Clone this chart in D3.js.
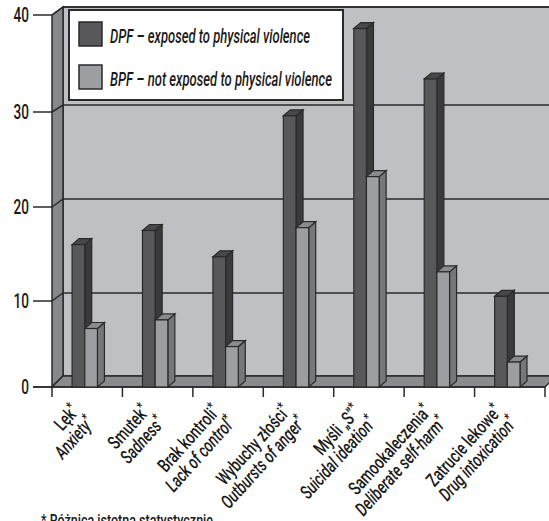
<!DOCTYPE html>
<html>
<head>
<meta charset="utf-8">
<script src="https://cdn.jsdelivr.net/npm/d3@7"></script>
<style>
  html, body { margin: 0; padding: 0; background: #fff; }
  svg { display: block; }
  text { font-family: "Roboto", "DejaVu Sans", sans-serif; font-weight: 500; fill: #1a1a1a; }
</style>
</head>
<body>
<svg id="chart" width="549" height="521"></svg>
<script>
// Categories: Polish name and English translation
const categoriesPl = ["Lęk", "Smutek", "Brak kontroli", "Wybuchy złości", "Myśli „S”", "Samookaleczenia", "Zatrucie lekowe"];
const categoriesEn = ["Anxiety", "Sadness", "Lack of control", "Outbursts of anger", "Suicidal ideation", "Deliberate self-harm", "Drug intoxication"];

// Percentages for the two groups
const dpfValues = [16.0, 17.5, 14.7, 29.6, 38.6, 33.4, 10.5];
const bpfValues = [6.8, 7.8, 4.7, 17.8, 23.2, 13.1, 2.9];

const seriesNames = ["DPF – exposed to physical violence", "BPF – not exposed to physical violence"];
const yTicks = [0, 10, 20, 30, 40];
const footnote = "* Różnica istotna statystycznie";

const svg = d3.select("#chart");

// Front plane of the 3-D box and its receding back wall
const yFront = d3.scaleLinear().domain(yTicks).range([387, 301, 207, 112, 15]);
const yBack = d3.scaleLinear().domain(yTicks).range([376, 293, 199, 105, 7]);
const x = d3.scaleBand().domain(d3.range(categoriesPl.length)).range([52, 545]).paddingInner(0).paddingOuter(0);
const depth = 11;            // wall depth offset in x
const barDx = 7, barDy = -6; // bar depth offsets
const barW = x.bandwidth() * 0.18;
const barOffset = x.bandwidth() * 0.285;

const x0 = 52, x1 = 545, xRight = 549;
const stroke = "#2a2a2a";

// Back wall
svg.append("rect")
  .attr("x", x0 + depth).attr("y", yBack(40))
  .attr("width", xRight - x0 - depth + 5).attr("height", yBack(0) - yBack(40))
  .attr("fill", "#bfc0c4").attr("stroke", stroke).attr("stroke-width", 1.5);

// Left side wall
svg.append("polygon")
  .attr("points", [[x0, yFront(40)], [x0 + depth, yBack(40)], [x0 + depth, yBack(0)], [x0, yFront(0)]].join(" "))
  .attr("fill", "#87888c").attr("stroke", stroke).attr("stroke-width", 1.5);

// Floor
svg.append("polygon")
  .attr("points", [[x0, yFront(0)], [x1, yFront(0)], [x1 + depth, yBack(0)], [x0 + depth, yBack(0)]].join(" "))
  .attr("fill", "#8a8b8f").attr("stroke", stroke).attr("stroke-width", 1.5);

// Gridlines on side wall and back wall
yTicks.filter(t => t > 0).forEach(t => {
  svg.append("polyline")
    .attr("points", [[x0, yFront(t)], [x0 + depth, yBack(t)], [xRight + 2, yBack(t)]].join(" "))
    .attr("fill", "none").attr("stroke", stroke).attr("stroke-width", 1.5);
});

// Y axis ticks and labels (condensed digits)
const yAxis = svg.append("g");
yTicks.forEach(t => {
  yAxis.append("line")
    .attr("x1", 33).attr("x2", x0).attr("y1", yFront(t)).attr("y2", yFront(t))
    .attr("stroke", stroke).attr("stroke-width", 1.5);
  yAxis.append("text")
    .attr("transform", `translate(29,${yFront(t)}) scale(0.68,1)`)
    .attr("dy", "0.36em")
    .attr("text-anchor", "end").attr("font-size", 20)
    .text(t);
});

// X axis baseline and category ticks
svg.append("line")
  .attr("x1", 33).attr("x2", x1).attr("y1", yFront(0)).attr("y2", yFront(0))
  .attr("stroke", stroke).attr("stroke-width", 1.5);
d3.range(categoriesPl.length + 1).forEach(i => {
  const xx = i < categoriesPl.length ? x(i) : x1;
  svg.append("line")
    .attr("x1", xx).attr("x2", xx).attr("y1", yFront(0)).attr("y2", yFront(0) + 10)
    .attr("stroke", stroke).attr("stroke-width", 1.5);
});

// 3-D bar: front face, right side, top
function bar(g, left, value, colors) {
  const top = yFront(value), bottom = yFront(0), right = left + barW;
  g.append("polygon")
    .attr("points", [[right, top], [right + barDx, top + barDy], [right + barDx, bottom + barDy], [right, bottom]].join(" "))
    .attr("fill", colors.side).attr("stroke", stroke).attr("stroke-width", 1.2);
  g.append("polygon")
    .attr("points", [[left, top], [left + barDx, top + barDy], [right + barDx, top + barDy], [right, top]].join(" "))
    .attr("fill", colors.top).attr("stroke", stroke).attr("stroke-width", 1.2);
  g.append("rect")
    .attr("x", left).attr("y", top).attr("width", barW).attr("height", bottom - top)
    .attr("fill", colors.front).attr("stroke", stroke).attr("stroke-width", 1.2);
}

const darkColors = { front: "#58585b", side: "#3a3a3c", top: "#48484a" };
const lightColors = { front: "#9d9ea2", side: "#76777b", top: "#8a8b8f" };

const bars = svg.append("g");
categoriesPl.forEach((c, i) => {
  const left = x(i) + barOffset;
  bar(bars, left, dpfValues[i], darkColors);
  bar(bars, left + barW, bpfValues[i], lightColors);
});

// Category labels, rotated and condensed
const labels = svg.append("g");
categoriesPl.forEach((c, i) => {
  const cx = x(i) + x.bandwidth() / 2;
  const g = labels.append("g").attr("transform", `translate(${cx - 7},${412}) rotate(-48) scale(0.72,1)`);
  const t1 = g.append("text").attr("x", 0).attr("y", 0).attr("text-anchor", "end").attr("font-size", 19);
  t1.append("tspan").text(c);
  t1.append("tspan").attr("font-size", 15).attr("dy", -6).text("*");
  const t2 = g.append("text").attr("x", 2).attr("y", 19).attr("text-anchor", "end")
    .attr("font-size", 19).attr("font-style", "italic");
  t2.append("tspan").text(categoriesEn[i]);
  t2.append("tspan").attr("font-size", 15).attr("dy", -6).text("*");
});

// Legend
const legend = svg.append("g");
legend.append("rect")
  .attr("x", 69).attr("y", 10).attr("width", 274).attr("height", 90)
  .attr("fill", "#fff").attr("stroke", stroke).attr("stroke-width", 2);
const legendRows = [
  { y: 22, color: darkColors.front, name: seriesNames[0], w: 200 },
  { y: 65, color: lightColors.front, name: seriesNames[1], w: 222 }
];
legendRows.forEach(r => {
  legend.append("rect")
    .attr("x", 79).attr("y", r.y).attr("width", 23).attr("height", 24)
    .attr("fill", r.color).attr("stroke", stroke).attr("stroke-width", 1.5);
  legend.append("text")
    .attr("x", 110).attr("y", r.y + 21)
    .attr("font-size", 20).attr("font-style", "italic")
    .attr("textLength", r.w).attr("lengthAdjust", "spacingAndGlyphs")
    .text(r.name);
});

// Footnote
svg.append("text")
  .attr("x", 41).attr("y", 526)
  .attr("font-size", 17)
  .attr("textLength", 172).attr("lengthAdjust", "spacingAndGlyphs")
  .text(footnote);
</script>
</body>
</html>
